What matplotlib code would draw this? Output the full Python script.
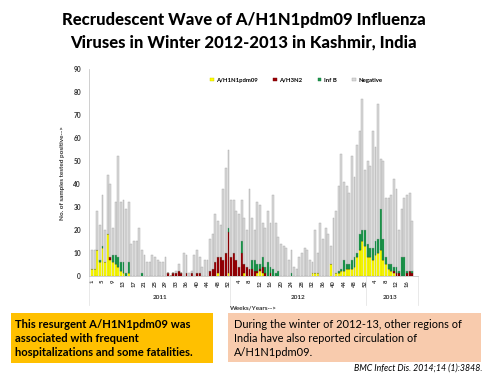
import numpy as np
import matplotlib.pyplot as plt
from matplotlib.patches import Rectangle

plt.rcParams['font.family'] = ['Lato', 'DejaVu Sans']

# weekly counts, 2011 wk1 -> 2013 wk19
total = [11, 11, 28, 22, 35, 20, 44, 40, 21, 32, 52, 32, 33, 29, 32, 14, 15, 15, 21, 11,
         9, 6, 6, 9, 8, 7, 6, 6, 8, 1, 0, 1, 2, 5, 1, 10, 9, 1, 2, 9,
         11, 8, 4, 7, 7, 16, 18, 27, 24, 22, 38, 47, 55, 33, 33, 28, 27, 33, 25, 20,
         38, 25, 20, 32, 31, 23, 21, 28, 23, 35, 23, 17, 14, 13, 12, 7, 11, 4, 3, 8,
         10, 12, 11, 7, 6, 20, 10, 23, 16, 21, 18, 13, 25, 28, 39, 53, 41, 39, 36, 52,
         43, 57, 63, 77, 46, 50, 48, 63, 56, 75, 51, 50, 34, 34, 35, 42, 38, 20, 29, 34,
         35, 36, 24]
h1n1 = [3, 3, 11, 6, 12, 6, 18, 7, 6, 5, 4, 2, 1, 0, 1, 0, 0, 0, 0, 0,
        0, 0, 0, 0, 0, 0, 0, 0, 0, 0, 0, 0, 0, 0, 0, 0, 0, 0, 0, 0,
        0, 0, 0, 0, 0, 0, 0, 0, 1, 0, 0, 0, 1, 0, 0, 0, 0, 0, 1, 0,
        0, 0, 0, 1, 2, 1, 0, 0, 0, 0, 0, 0, 0, 0, 0, 0, 0, 0, 0, 0,
        0, 0, 0, 0, 1, 1, 1, 0, 0, 0, 0, 5, 0, 1, 1, 2, 2, 3, 3, 3,
        4, 8, 11, 15, 13, 8, 8, 7, 9, 10, 11, 7, 5, 3, 2, 1, 0, 0, 0, 0,
        0, 0, 0]
h3n2 = [0, 0, 0, 0, 0, 0, 0, 1, 0, 0, 0, 0, 0, 0, 0, 0, 0, 0, 0, 0,
        0, 0, 0, 0, 0, 0, 0, 0, 0, 1, 0, 1, 1, 2, 1, 0, 1, 0, 1, 0,
        1, 1, 0, 0, 0, 2, 3, 6, 7, 8, 7, 10, 18, 8, 10, 7, 4, 10, 4, 4,
        3, 3, 2, 1, 1, 3, 1, 0, 1, 0, 0, 0, 0, 0, 0, 0, 0, 0, 0, 0,
        0, 0, 0, 0, 0, 0, 0, 0, 0, 0, 0, 0, 0, 0, 0, 0, 0, 0, 0, 0,
        0, 0, 0, 0, 0, 0, 0, 0, 0, 0, 0, 0, 0, 0, 0, 1, 1, 1, 0, 0,
        1, 2, 1]
infb = [0, 0, 0, 1, 1, 0, 0, 0, 3, 4, 4, 4, 5, 1, 5, 0, 0, 0, 0, 1,
        0, 0, 0, 0, 0, 0, 0, 0, 0, 0, 0, 0, 0, 0, 0, 0, 0, 0, 0, 0,
        0, 0, 0, 0, 0, 0, 0, 0, 0, 0, 0, 0, 2, 0, 0, 0, 0, 5, 0, 0,
        0, 4, 5, 3, 2, 4, 3, 6, 3, 3, 1, 2, 0, 0, 0, 0, 1, 0, 0, 0,
        0, 0, 0, 0, 0, 0, 0, 0, 0, 0, 0, 0, 0, 0, 1, 1, 5, 2, 2, 4,
        4, 2, 7, 5, 7, 6, 4, 5, 6, 6, 18, 9, 3, 2, 3, 2, 3, 1, 8, 8,
        1, 0, 1]

week_labels = ['1', '5', '9', '13', '17', '21', '25', '29', '33', '36', '40', '44', '48', '52',
               '4', '8', '12', '16', '20', '24', '28', '32', '36', '40', '44', '48', '52',
               '4', '8', '12', '16']
years = ['2011', '2012', '2013']
year_start = [0, 53, 105]

y1 = np.array(h1n1)
y2 = np.array(h3n2)
y3 = np.array(infb)
neg = np.array(total) - y1 - y2 - y3
x = np.arange(len(total))
n = len(total)

fig = plt.figure(figsize=(4.87, 3.76), dpi=100)
ax = fig.add_axes([89.4 / 487, 1 - 275.7 / 376, (417.5 - 89.4) / 487, (275.7 - 69.3) / 376])

w = 0.72
ax.bar(x, y1, w, color='#ffff00', edgecolor='#c8c800', linewidth=0.3, label='A/H1N1pdm09')
ax.bar(x, y2, w, bottom=y1, color='#9c0006', edgecolor='#700000', linewidth=0.3, label='A/H3N2')
ax.bar(x, y3, w, bottom=y1 + y2, color='#1f9a4c', edgecolor='#10703a', linewidth=0.3, label='Inf B')
ax.bar(x, neg, w, bottom=y1 + y2 + y3, color='#d9d9d9', edgecolor='#a6a6a6', linewidth=0.3, label='Negative')

ax.set_xlim(-1, n + 1)
ax.set_ylim(0, 90)
ax.set_yticks(range(0, 91, 10))
ax.set_xticks(x[::4])
ax.set_xticklabels(week_labels, rotation=90)
ax.tick_params(axis='x', length=0, labelsize=4.2, pad=3, labelcolor='#333333')
ax.tick_params(axis='y', length=0, labelsize=4.8, pad=6, labelcolor='#333333')
for lab in ax.get_xticklabels() + ax.get_yticklabels():
    lab.set_fontweight('bold')
for s in ['top', 'right']:
    ax.spines[s].set_visible(False)
ax.spines['left'].set_color('#c8c8c8')
ax.spines['bottom'].set_color('#c8c8c8')
ax.spines['left'].set_linewidth(0.6)
ax.spines['bottom'].set_linewidth(0.6)

ax.set_ylabel('No. of samples tested positive-->', fontsize=4.6, fontweight='bold', color='#333333', labelpad=6)

tr = ax.get_xaxis_transform()
ends = year_start + [n]
for i, yr in enumerate(years):
    mid = (ends[i] + ends[i + 1] - 1) / 2
    ax.text(mid, -0.108, yr, transform=tr, ha='center', va='center', fontsize=4.6,
            fontweight='bold', color='#333333')
for b in [-1, 52.5, 104.5, n + 1]:
    ax.plot([b, b], [0, -0.14], transform=tr, color='#e0e0e0', lw=0.5, clip_on=False)
ax.text(0.5, -0.158, 'Weeks/Years-->', transform=ax.transAxes, ha='center', va='center',
        fontsize=4.6, fontweight='bold', color='#333333')

ax.legend(loc='center', bbox_to_anchor=(0.63, 0.948), ncol=4, frameon=False,
          handlelength=0.6, handleheight=0.6, handletextpad=0.4, columnspacing=2.6,
          prop={'weight': 'bold', 'size': 4.3})

fig.text(0.5, 1 - 20 / 376, 'Recrudescent Wave of A/H1N1pdm09 Influenza', ha='center', va='center',
         fontsize=12, fontweight='black')
fig.text(0.5, 1 - 42 / 376, 'Viruses in Winter 2012-2013 in Kashmir, India', ha='center', va='center',
         fontsize=12, fontweight='black')

fig.patches.append(Rectangle((11 / 487, 1 - 363 / 376), 202 / 487, 50 / 376, transform=fig.transFigure,
                             facecolor='#ffc000', edgecolor='none'))
fig.patches.append(Rectangle((228 / 487, 1 - 362 / 376), 253 / 487, 49 / 376, transform=fig.transFigure,
                             facecolor='#f8cbad', edgecolor='none'))
left_lines = ['This resurgent A/H1N1pdm09 was', 'associated with frequent',
              'hospitalizations and some fatalities.']
right_lines = ['During the winter of 2012-13, other regions of', 'India have also reported circulation of',
               'A/H1N1pdm09.']
for k, t in enumerate(left_lines):
    fig.text(15 / 487, 1 - (324 + 14.3 * k) / 376, t, ha='left', va='center', fontsize=8.1, fontweight='bold')
for k, t in enumerate(right_lines):
    fig.text(234 / 487, 1 - (324 + 14.3 * k) / 376, t, ha='left', va='center', fontsize=7.9)
fig.text(482 / 487, 1 - 368 / 376, 'BMC Infect Dis. 2014;14 (1):3848.', ha='right', va='center',
         fontsize=6.3, style='italic')

fig.savefig('out.png', dpi=100)
